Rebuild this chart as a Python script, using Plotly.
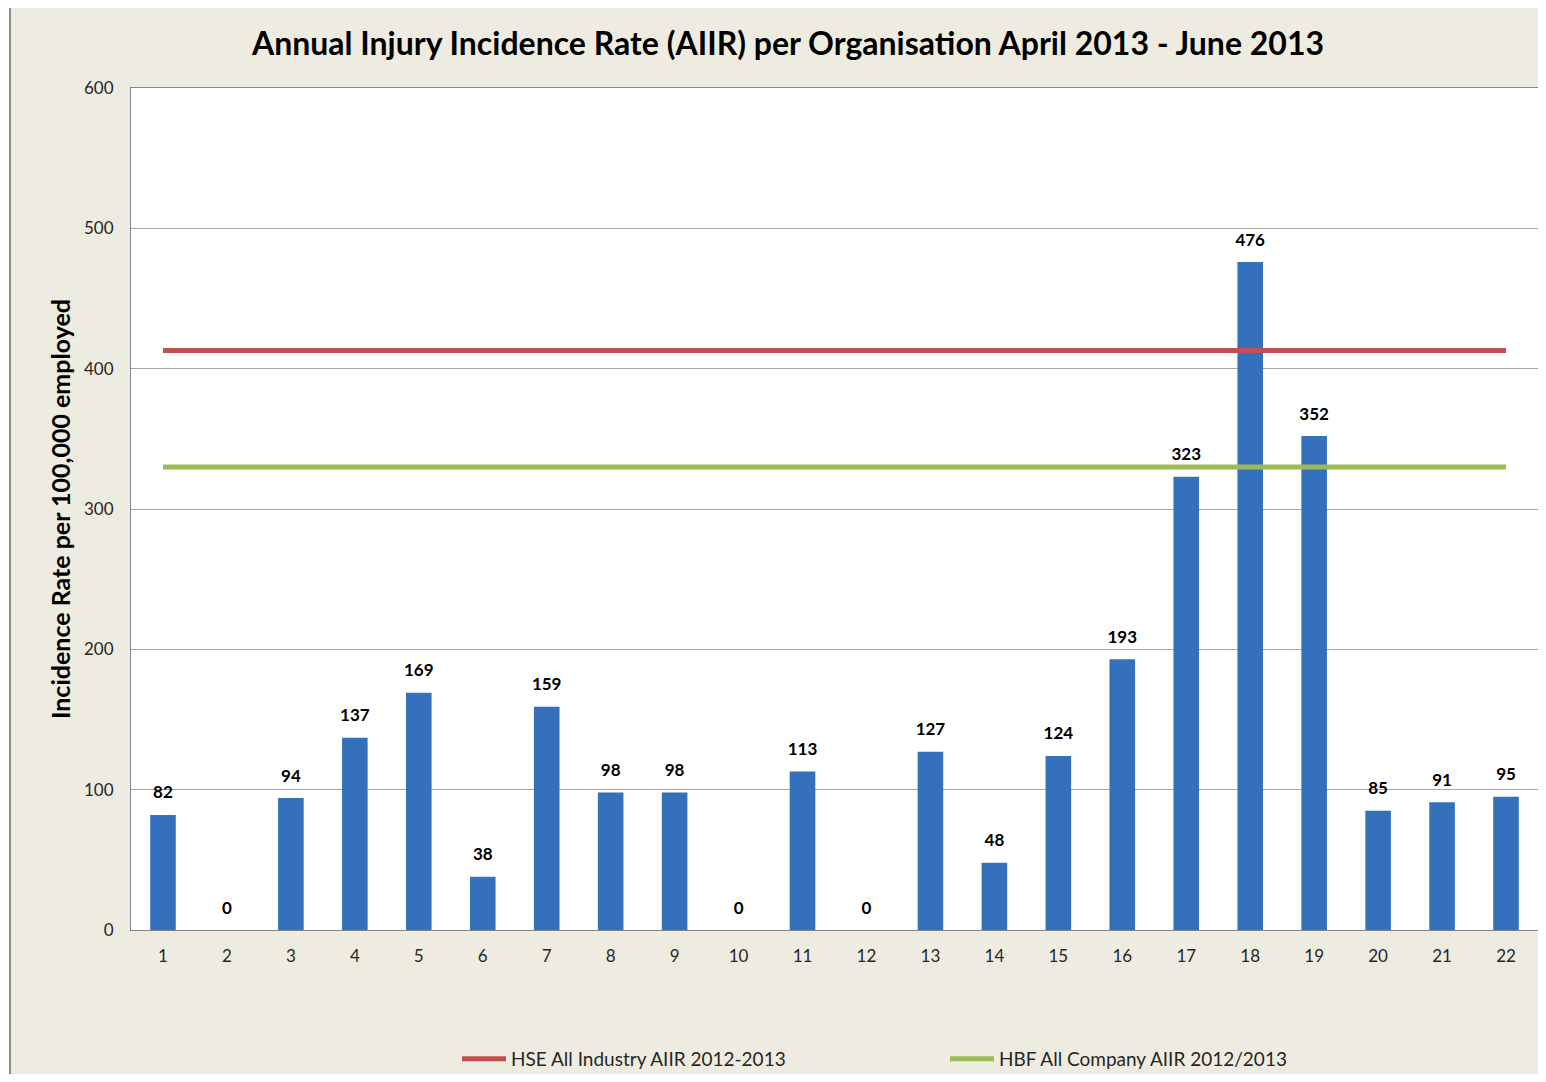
import plotly.graph_objects as go

organisations = [str(i) for i in range(1, 23)]
aiir = [82, 0, 94, 137, 169, 38, 159, 98, 98, 0, 113, 0, 127, 48, 124, 193, 323, 476, 352, 85, 91, 95]
hse_aiir = 413
hbf_aiir = 330
y_ticks = [0, 100, 200, 300, 400, 500, 600]

# page body has an 8px margin, so work in figure pixels = screen pixels - 8
OFF = 8
W, H = 1546 - 2 * OFF, 1082 - 2 * OFF
L, R, T = 131 - OFF, 0, 88 - OFF
B = H + OFF - 930
pw, ph = W - L - R, H - T - B

def px_x(p):
    return (p - OFF - L) / pw

def px_y(p):
    return (H + OFF - B - p) / ph

fnt = "Lato, Open Sans, sans-serif"

fig = go.Figure()
fig.add_trace(go.Bar(
    x=organisations, y=aiir,
    marker=dict(color="#3570BC", line=dict(width=0)),
    showlegend=False, hoverinfo="x+y",
))
fig.add_trace(go.Scatter(
    x=organisations, y=[hse_aiir] * len(organisations), mode="lines",
    line=dict(color="#C0504D", width=5), name="HSE All Industry AIIR 2012-2013",
))
fig.add_trace(go.Scatter(
    x=organisations, y=[hbf_aiir] * len(organisations), mode="lines",
    line=dict(color="#9BBB59", width=5), name="HBF All Company AIIR 2012/2013",
))
# data labels
fig.add_trace(go.Scatter(
    x=organisations, y=aiir, mode="markers+text", text=aiir, textposition="top center",
    marker=dict(size=18, color="rgba(0,0,0,0)"), cliponaxis=False,
    textfont=dict(family=fnt, size=17, color="black", weight="bold"),
    showlegend=False, hoverinfo="skip",
))

# white strip outside the chart frame + frame border
shapes = [
    dict(type="rect", xref="paper", yref="paper", x0=px_x(-20), x1=px_x(10), y0=px_y(H + 40), y1=px_y(-20),
         fillcolor="white", line=dict(width=0), layer="above"),
    dict(type="rect", xref="paper", yref="paper", x0=px_x(-20), x1=px_x(W + 40), y0=px_y(7), y1=px_y(-20),
         fillcolor="white", line=dict(width=0), layer="above"),
    dict(type="line", xref="paper", yref="paper", x0=px_x(10), x1=px_x(10), y0=px_y(7), y1=px_y(H + 40),
         line=dict(color="#8C8C8C", width=2), layer="above"),
    dict(type="line", xref="paper", yref="paper", x0=px_x(10), x1=px_x(W + 40), y0=px_y(7), y1=px_y(7),
         line=dict(color="#8C8C8C", width=2), layer="above"),
]

fig.update_layout(
    width=W, height=H,
    margin=dict(l=L, r=R, t=T, b=B, pad=0, autoexpand=False),
    paper_bgcolor="#EEECE1", plot_bgcolor="white",
    bargap=0.6,
    font=dict(family=fnt, size=17, color="#262626"),
    title=dict(text="<b>Annual Injury Incidence Rate (AIIR) per Organisation April 2013 - June 2013</b>",
               x=(788 - OFF) / W, xanchor="center", y=1 - (44 - OFF) / H, yanchor="middle",
               font=dict(family=fnt, size=32, color="black")),
    xaxis=dict(range=[-0.5, len(organisations) - 0.5], showgrid=False, showline=True,
               linecolor="#868686", mirror=True,
               ticks="", ticklabelstandoff=11, tickfont=dict(size=17, color="#262626")),
    yaxis=dict(range=[0, 600], tickvals=y_ticks, showgrid=True, gridcolor="#A6A6A6", gridwidth=1,
               showline=True, linecolor="#868686", mirror=True, zeroline=False,
               ticks="", ticklabelstandoff=13, tickfont=dict(size=17, color="#262626"),
               title=dict(text="<b>Incidence Rate per 100,000 employed</b>", standoff=6,
                          font=dict(family=fnt, size=25, color="black"))),
    legend=dict(orientation="h", x=px_x(457), xanchor="left",
                yref="container", y=1 - (1059 - OFF) / H, yanchor="middle",
                bgcolor="rgba(0,0,0,0)", font=dict(size=19, color="#262626"),
                entrywidth=429, entrywidthmode="pixels", itemwidth=44),
    shapes=shapes,
)

fig.write_html("out.html")
